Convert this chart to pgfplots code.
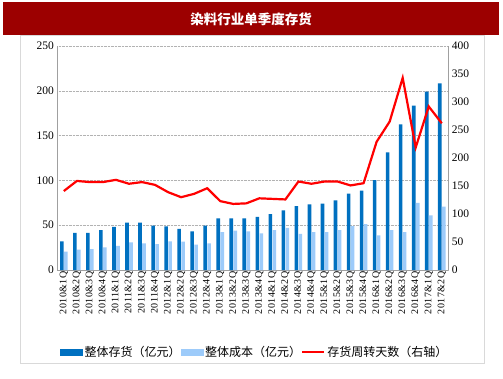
\documentclass[border=0pt]{standalone}
\usepackage{pgfplots}
\pgfplotsset{compat=1.18}
\usepackage{fontspec}
\setmainfont{Liberation Serif}
\newfontfamily\cjk{Noto Sans CJK SC}
\definecolor{darkb}{HTML}{0070C0}
\definecolor{lightb}{HTML}{9DCBFA}
\definecolor{banner}{HTML}{9C0000}
\definecolor{redl}{HTML}{FF0000}
\definecolor{framegray}{HTML}{D9D9D9}
\definecolor{axgray}{HTML}{A0A0A0}
\begin{document}
\begin{tikzpicture}[x=1pt,y=1pt]
\path[fill=white] (0,0) rectangle (503,378);
\fill[banner] (3,343) rectangle (499,376);
\node[text=white,font=\cjk\bfseries\fontsize{13.5}{14}\selectfont] at (251,359) {染料行业单季度存货};
\draw[framegray] (20,15) rectangle (484,343);
\begin{axis}[
  at={(57.3pt,108pt)}, anchor=south west,
  scale only axis, width=391pt, height=224pt,
  xmin=-0.5, xmax=29.5, ymin=0, ymax=250,
  ytick={0,50,100,150,200,250},
  axis x line*=bottom, axis y line*=left,
  axis line style={axgray},
  x axis line style={-}, y axis line style={-},
  ymajorgrids, grid style={gray!60, densely dotted},
  major tick length=0pt,
  xtick={0,...,29},
  xticklabels={2010\&1Q,2010\&2Q,2010\&3Q,2010\&4Q,2011\&1Q,2011\&2Q,2011\&3Q,2011\&4Q,2012\&1Q,2012\&2Q,2012\&3Q,2012\&4Q,2013\&1Q,2013\&2Q,2013\&3Q,2013\&4Q,2014\&1Q,2014\&2Q,2014\&3Q,2014\&4Q,2015\&1Q,2015\&2Q,2015\&3Q,2015\&4Q,2016\&1Q,2016\&2Q,2016\&3Q,2016\&4Q,2017\&1Q,2017\&2Q},
  xticklabel style={rotate=90, anchor=east, font=\fontsize{10}{10}\selectfont\addfontfeature{LetterSpace=4}, inner sep=1.5pt},
  yticklabel style={font=\fontsize{11.5}{11.5}\selectfont},
  /pgf/number format/assume math mode=true,
  ybar, bar width=3.6pt,
]
\addplot[fill=darkb, draw=none, bar shift=-2pt] coordinates {
(0,32) (1,41.5) (2,41.5) (3,44.5) (4,48) (5,53) (6,53) (7,49.5) (8,48.7) (9,46)
(10,43) (11,49.5) (12,57.7) (13,57.7) (14,57.7) (15,59.2) (16,62.5) (17,66.6) (18,71.4) (19,73.3)
(20,74) (21,77.8) (22,85.2) (23,88.5) (24,100.4) (25,131.3) (26,162.6) (27,183.4) (28,199) (29,208.3)};
\addplot[fill=lightb, draw=none, bar shift=2pt] coordinates {
(0,20.5) (1,22.7) (2,23.4) (3,25.3) (4,26.8) (5,30.9) (6,29.8) (7,29) (8,32) (9,31.6)
(10,28.3) (11,29.8) (12,42.4) (13,43.9) (14,43.2) (15,40.9) (16,44.6) (17,46.9) (18,40.2) (19,42.4)
(20,42.4) (21,44.6) (22,49.1) (23,51.3) (24,38.7) (25,44.6) (26,42.4) (27,74.8) (28,61) (29,70.7)};
\end{axis}
\begin{axis}[
  at={(57.3pt,108pt)}, anchor=south west,
  scale only axis, width=391pt, height=224pt,
  xmin=-0.5, xmax=29.5, ymin=0, ymax=400,
  ytick={0,50,...,400},
  axis x line=none, axis y line*=right,
  axis line style={axgray}, y axis line style={-},
  major tick length=0pt,
  yticklabel style={font=\fontsize{11.5}{11.5}\selectfont},
  /pgf/number format/assume math mode=true,
  legend style={at={(0.505,-0.366)}, anchor=center, draw=none, fill=none,
    font=\cjk\fontsize{12}{12}\selectfont, legend columns=3,
    /tikz/every odd column/.append style={column sep=0pt},
    /tikz/every even column/.append style={column sep=-2pt}},
]
\addlegendimage{legend image code/.code={\fill[darkb] (0pt,-3pt) rectangle (22pt,3pt);}}
\addlegendentry{整体存货（亿元）}
\addlegendimage{legend image code/.code={\fill[lightb] (0pt,-3pt) rectangle (22pt,3pt);}}
\addlegendentry{整体成本（亿元）}
\addplot[redl, line width=2.2pt, mark=none, legend image code/.code={\draw[redl,line width=2.2pt] (0pt,0pt)--(22pt,0pt);}] coordinates {
(0,141) (1,159) (2,157) (3,157) (4,161) (5,154) (6,157) (7,152) (8,139) (9,130)
(10,136) (11,146) (12,123) (13,118) (14,119) (15,128) (16,127) (17,126) (18,158) (19,154)
(20,158) (21,158) (22,151) (23,155) (24,229) (25,265) (26,343) (27,219) (28,292) (29,262)};
\addlegendentry{存货周转天数（右轴）}
\end{axis}
\end{tikzpicture}
\end{document}
